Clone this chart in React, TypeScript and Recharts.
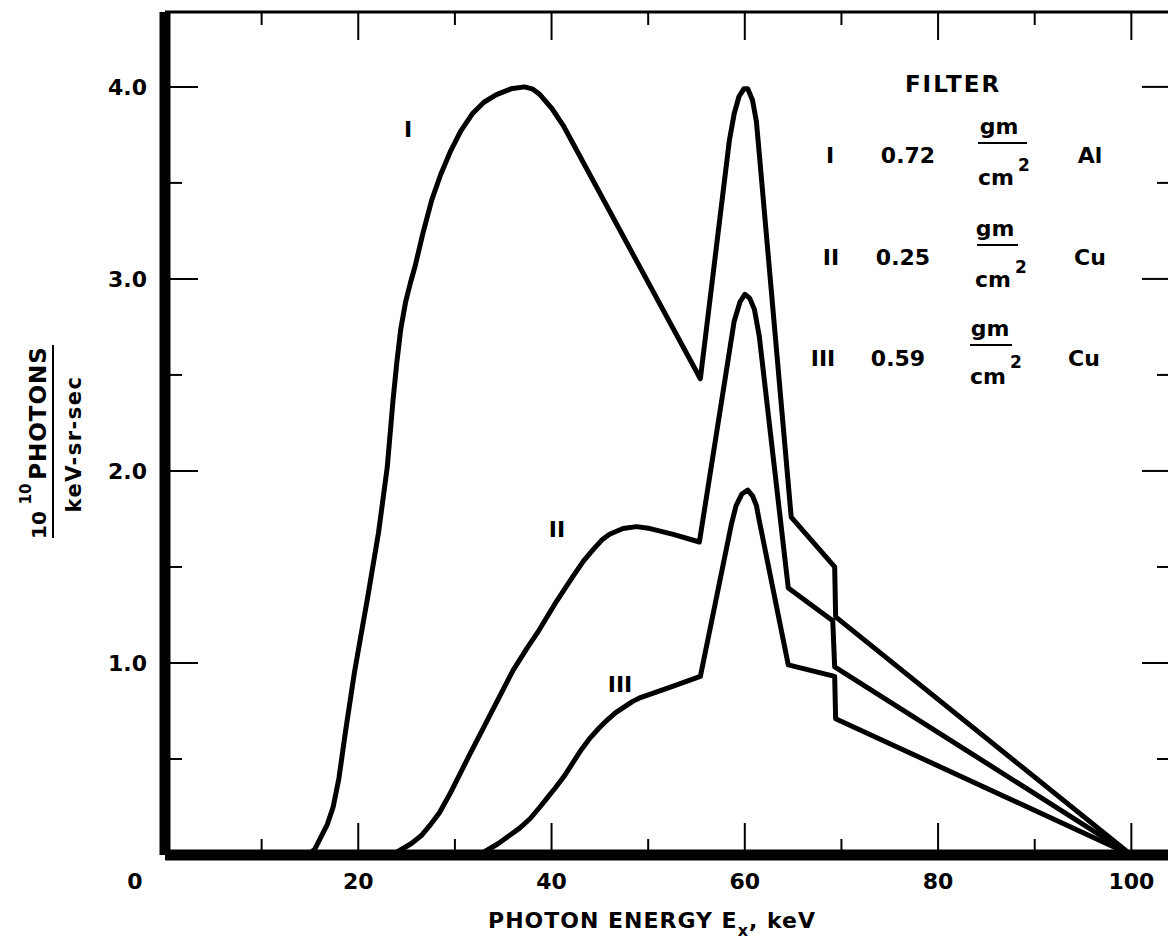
import React from 'react';
import { LineChart, Line, XAxis, YAxis } from 'recharts';

// filter I: 0.72 gm/cm2 Al
const energyI = [14.8, 15.5, 16.0, 16.8, 17.4, 18.0, 18.7, 19.6, 20.3, 21.0, 22.1, 23.0, 23.6, 24.0, 24.4, 24.9, 25.4, 25.9, 26.7, 27.6, 28.5, 29.5, 30.6, 31.8, 33.0, 34.3, 35.8, 37.2, 38.0, 38.8, 40.0, 41.2, 55.4, 58.4, 58.9, 59.4, 59.9, 60.3, 60.8, 61.2, 61.5, 64.8, 69.3, 69.4, 100];
const fluxI = [0, 0.03, 0.08, 0.16, 0.25, 0.4, 0.65, 0.95, 1.15, 1.35, 1.68, 2.02, 2.37, 2.57, 2.74, 2.88, 2.98, 3.07, 3.24, 3.41, 3.54, 3.66, 3.77, 3.86, 3.92, 3.96, 3.99, 4.0, 3.99, 3.96, 3.89, 3.8, 2.48, 3.72, 3.86, 3.95, 3.99, 3.99, 3.93, 3.82, 3.65, 1.76, 1.5, 1.24, 0];

// filter II: 0.25 gm/cm2 Cu
const energyII = [23.5, 24.5, 25.5, 26.5, 27.5, 28.4, 29.5, 30.5, 31.5, 36.0, 37.5, 38.7, 40.5, 42.2, 43.3, 44.3, 45.2, 46.0, 47.4, 48.8, 50.2, 52.6, 55.3, 58.4, 58.9, 59.5, 60.0, 60.5, 61.0, 61.5, 64.5, 69.1, 69.3, 100];
const fluxII = [0, 0.03, 0.06, 0.1, 0.16, 0.22, 0.32, 0.42, 0.52, 0.96, 1.08, 1.17, 1.32, 1.45, 1.53, 1.59, 1.64, 1.67, 1.7, 1.71, 1.7, 1.67, 1.63, 2.62, 2.78, 2.88, 2.92, 2.9, 2.84, 2.7, 1.39, 1.22, 0.98, 0];

// filter III: 0.59 gm/cm2 Cu
const energyIII = [32.5, 33.5, 34.5, 35.6, 36.7, 37.8, 38.8, 39.6, 40.4, 41.3, 42.2, 43.1, 44.0, 44.9, 45.7, 46.6, 47.5, 48.4, 49.2, 50.9, 52.6, 55.4, 58.6, 59.1, 59.7, 60.3, 60.8, 61.2, 61.5, 64.5, 69.3, 69.4, 100];
const fluxIII = [0, 0.03, 0.06, 0.1, 0.14, 0.19, 0.25, 0.3, 0.35, 0.41, 0.48, 0.55, 0.61, 0.66, 0.7, 0.74, 0.77, 0.8, 0.82, 0.85, 0.88, 0.93, 1.72, 1.82, 1.88, 1.9, 1.87, 1.82, 1.74, 0.99, 0.93, 0.71, 0];

const xTicks = [0, 10, 20, 30, 40, 50, 60, 70, 80, 90, 100];
const xLabelled = [0, 20, 40, 60, 80, 100];
const yTicks = [0.5, 1, 1.5, 2, 2.5, 3, 3.5, 4];
const yLabelled = [1, 2, 3, 4];

const toPoints = (xs: number[], ys: number[]) => xs.map((x, i) => ({ x, y: ys[i] }));

const FONT = '"DejaVu Sans", sans-serif';
const txt = { fontFamily: FONT, fontWeight: 'bold' as const, fill: '#000' };

const BottomTick = ({ x, y, payload }: any) => {
  const v = payload.value;
  const major = v % 20 === 0;
  return (
    <g>
      {v > 0 && <line x1={x} x2={x} y1={y} y2={y - (major ? 32 : 16)} stroke="#000" strokeWidth={2} />}
      {xLabelled.includes(v) && (
        <text x={v === 0 ? x - 30 : x} y={y + 34} textAnchor="middle" fontSize={22} {...txt}>{v}</text>
      )}
    </g>
  );
};

const TopTick = ({ x, y, payload }: any) => {
  const v = payload.value;
  if (v === 0) return <g />;
  return <line x1={x} x2={x} y1={y} y2={y + (v % 20 === 0 ? 28 : 13)} stroke="#000" strokeWidth={2} />;
};

const LeftTick = ({ x, y, payload }: any) => {
  const v = payload.value;
  const major = Number.isInteger(v);
  return (
    <g>
      <line x1={x} x2={x + (major ? 33 : 17)} y1={y} y2={y} stroke="#000" strokeWidth={2} />
      {yLabelled.includes(v) && (
        <text x={x - 18} y={y + 8} textAnchor="end" fontSize={22} {...txt}>{v.toFixed(1)}</text>
      )}
    </g>
  );
};

const RightTick = ({ x, y, payload }: any) => {
  const v = payload.value;
  return <line x1={x} x2={x - (Number.isInteger(v) ? 28 : 13)} y1={y} y2={y} stroke="#000" strokeWidth={2} />;
};

const Overlay = () => (
  <svg width={1168} height={951} style={{ position: 'absolute', left: 0, top: 0, pointerEvents: 'none' }}>
    {/* y axis title */}
    <text x={46} y={413} transform="rotate(-90 46 413)" textAnchor="middle" fontSize={23} letterSpacing={1} {...txt}>PHOTONS</text>
    <text x={46} y={525} transform="rotate(-90 46 525)" textAnchor="middle" fontSize={20} {...txt}>10</text>
    <text x={31} y={494} transform="rotate(-90 31 494)" textAnchor="middle" fontSize={15} {...txt}>10</text>
    <line x1={53} x2={53} y1={345} y2={538} stroke="#000" strokeWidth={2} />
    <text x={81} y={444} transform="rotate(-90 81 444)" textAnchor="middle" fontSize={21} letterSpacing={1.5} {...txt}>keV-sr-sec</text>

    {/* x axis title */}
    <text x={652} y={928} textAnchor="middle" fontSize={22} letterSpacing={1} {...txt}>
      PHOTON ENERGY E<tspan fontSize={16} dy={8}>x</tspan><tspan dy={-8}>, keV</tspan>
    </text>

    {/* curve labels */}
    <text x={408} y={137} textAnchor="middle" fontSize={22} {...txt}>I</text>
    <text x={557} y={537} textAnchor="middle" fontSize={22} {...txt}>II</text>
    <text x={620} y={692} textAnchor="middle" fontSize={22} {...txt}>III</text>

    {/* filter legend */}
    <text x={953} y={92} textAnchor="middle" fontSize={23} letterSpacing={2} {...txt}>FILTER</text>

    <text x={830} y={163} textAnchor="middle" fontSize={22} {...txt}>I</text>
    <text x={908} y={163} textAnchor="middle" fontSize={22} {...txt}>0.72</text>
    <text x={999} y={134} textAnchor="middle" fontSize={22} {...txt}>gm</text>
    <line x1={978} x2={1027} y1={143} y2={143} stroke="#000" strokeWidth={2} />
    <text x={996} y={185} textAnchor="middle" fontSize={22} {...txt}>cm</text>
    <text x={1024} y={171} textAnchor="middle" fontSize={17} {...txt}>2</text>
    <text x={1090} y={163} textAnchor="middle" fontSize={22} {...txt}>Al</text>

    <text x={831} y={265} textAnchor="middle" fontSize={22} {...txt}>II</text>
    <text x={903} y={265} textAnchor="middle" fontSize={22} {...txt}>0.25</text>
    <text x={995} y={236} textAnchor="middle" fontSize={22} {...txt}>gm</text>
    <line x1={977} x2={1018} y1={245} y2={245} stroke="#000" strokeWidth={2} />
    <text x={993} y={287} textAnchor="middle" fontSize={22} {...txt}>cm</text>
    <text x={1021} y={273} textAnchor="middle" fontSize={17} {...txt}>2</text>
    <text x={1090} y={265} textAnchor="middle" fontSize={22} {...txt}>Cu</text>

    <text x={823} y={366} textAnchor="middle" fontSize={22} {...txt}>III</text>
    <text x={898} y={366} textAnchor="middle" fontSize={22} {...txt}>0.59</text>
    <text x={990} y={336} textAnchor="middle" fontSize={22} {...txt}>gm</text>
    <line x1={970} x2={1012} y1={345} y2={345} stroke="#000" strokeWidth={2} />
    <text x={988} y={384} textAnchor="middle" fontSize={22} {...txt}>cm</text>
    <text x={1016} y={368} textAnchor="middle" fontSize={17} {...txt}>2</text>
    <text x={1084} y={366} textAnchor="middle" fontSize={22} {...txt}>Cu</text>
  </svg>
);

export default function App() {
  const series = [
    { key: 'I', data: toPoints(energyI, fluxI) },
    { key: 'II', data: toPoints(energyII, fluxII) },
    { key: 'III', data: toPoints(energyIII, fluxIII) },
  ];

  return (
    <div style={{ position: 'fixed', left: 0, top: 0, width: 1168, height: 951, overflow: 'hidden', background: '#fff' }}>
      <LineChart width={1190} height={951} margin={{ top: 11, right: 19, bottom: 0, left: 0 }}>
        <XAxis
          dataKey="x"
          type="number"
          domain={[0, 104]}
          ticks={xTicks}
          interval={0}
          height={96}
          allowDataOverflow
          axisLine={{ stroke: '#000', strokeWidth: 11 }}
          tickLine={false}
          tickSize={0}
          tickMargin={0}
          tick={<BottomTick />}
        />
        <XAxis
          xAxisId="top"
          orientation="top"
          dataKey="x"
          type="number"
          domain={[0, 104]}
          ticks={xTicks}
          interval={0}
          height={1}
          allowDataOverflow
          axisLine={{ stroke: '#000', strokeWidth: 3 }}
          tickLine={false}
          tickSize={0}
          tickMargin={0}
          tick={<TopTick />}
        />
        <YAxis
          type="number"
          domain={[0, 4.39]}
          ticks={yTicks}
          interval={0}
          width={165}
          allowDataOverflow
          axisLine={{ stroke: '#000', strokeWidth: 11 }}
          tickLine={false}
          tickSize={0}
          tickMargin={0}
          tick={<LeftTick />}
        />
        <YAxis
          yAxisId="right"
          orientation="right"
          type="number"
          domain={[0, 4.39]}
          ticks={yTicks}
          interval={0}
          width={1}
          allowDataOverflow
          axisLine={{ stroke: '#000', strokeWidth: 3 }}
          tickLine={false}
          tickSize={0}
          tickMargin={0}
          tick={<RightTick />}
        />
        {series.map((s) => (
          <Line
            key={s.key}
            data={s.data}
            dataKey="y"
            type="linear"
            stroke="#000"
            strokeWidth={5}
            strokeLinejoin="round"
            dot={false}
            activeDot={false}
            isAnimationActive={false}
          />
        ))}
      </LineChart>
      <Overlay />
    </div>
  );
}
